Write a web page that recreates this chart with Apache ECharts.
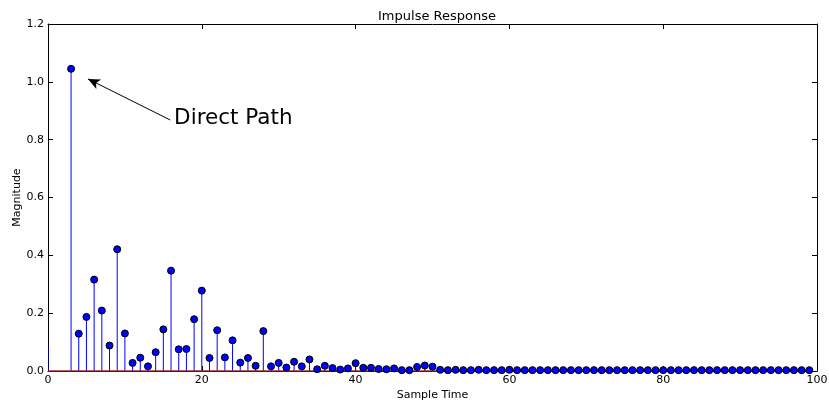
<!DOCTYPE html>
<html>
<head>
<meta charset="utf-8">
<script src="https://cdn.jsdelivr.net/npm/echarts@6/dist/echarts.min.js"></script>
<style>html,body{margin:0;padding:0;background:#fff}#c{width:829px;height:402px}</style>
</head>
<body>
<div id="c"></div>
<script>
const chartTitle = 'Impulse Response';
const xLabel = 'Sample Time';
const yLabel = 'Magnitude';
const xTicks = [0, 20, 40, 60, 80, 100];
const yTicks = [0, 0.2, 0.4, 0.6, 0.8, 1.0, 1.2];
// stem at sample 0 (drawn without a visible marker in the reference)
const leadStem = [0, 0.088];
// magnitudes for sample times 3..99
const firstSample = 3;
const magnitudes = [
  1.045, 0.129, 0.187, 0.316, 0.209, 0.088, 0.421, 0.130, 0.028, 0.046,
  0.016, 0.065, 0.144, 0.347, 0.075, 0.076, 0.179, 0.278, 0.045, 0.141,
  0.047, 0.106, 0.029, 0.045, 0.018, 0.138, 0.016, 0.028, 0.012, 0.032,
  0.016, 0.040, 0.006, 0.018, 0.010, 0.005, 0.009, 0.027, 0.011, 0.011,
  0.007, 0.006, 0.009, 0.003, 0.003, 0.014, 0.019, 0.015, 0.004, 0.003,
  0.004, 0.003, 0.003, 0.004, 0.003, 0.003, 0.003, 0.004, 0.003, 0.003,
  0.003, 0.003, 0.003, 0.003, 0.003, 0.003, 0.003, 0.003, 0.003, 0.003,
  0.003, 0.003, 0.003, 0.003, 0.003, 0.003, 0.003, 0.003, 0.003, 0.003,
  0.003, 0.003, 0.003, 0.003, 0.003, 0.003, 0.003, 0.003, 0.003, 0.003,
  0.003, 0.003, 0.003, 0.003, 0.003, 0.003, 0.003
];
const annotationText = 'Direct Path';
const arrowTail = [15.9, 0.868];
const arrowHead = [5.2, 1.01];
const textAnchor = [16.4, 0.872];

const points = magnitudes.map((v, i) => [firstSample + i, v]);
const stems = [leadStem].concat(points);
const baselineEnd = points[points.length - 1][0];

const font = 'DejaVu Sans';
const chart = echarts.init(document.getElementById('c'));
const axisLineStyle = { show: true, onZero: false, lineStyle: { color: '#000', width: 1 } };
const tickStyle = { show: true, inside: true, length: 5, lineStyle: { color: '#000' } };

chart.setOption({
  animation: false,
  backgroundColor: '#fff',
  title: {
    text: chartTitle, left: 432, top: 5, textAlign: 'center',
    textStyle: { fontFamily: font, fontSize: 13, fontWeight: 'normal', color: '#000' }
  },
  grid: { left: 48, right: 12, top: 24, bottom: 31, containLabel: false, outerBoundsMode: 'none' },
  xAxis: [{
    type: 'value', min: 0, max: 100, interval: 20, position: 'bottom',
    name: xLabel, nameLocation: 'middle', nameGap: 19, nameMoveOverlap: false,
    nameTextStyle: { fontFamily: font, fontSize: 11, color: '#000' },
    axisLine: axisLineStyle, axisTick: tickStyle, splitLine: { show: false },
    axisLabel: { fontFamily: font, fontSize: 11, color: '#000', margin: 4 }
  }, {
    type: 'value', min: 0, max: 100, interval: 20, position: 'top',
    axisLine: axisLineStyle, axisTick: tickStyle, splitLine: { show: false },
    axisLabel: { show: false }
  }],
  yAxis: [{
    type: 'value', min: 0, max: 1.2, interval: 0.2, position: 'left',
    name: yLabel, nameLocation: 'middle', nameGap: 25, nameMoveOverlap: false,
    nameTextStyle: { fontFamily: font, fontSize: 11, color: '#000' },
    axisLine: axisLineStyle, axisTick: tickStyle, splitLine: { show: false },
    axisLabel: { fontFamily: font, fontSize: 11, color: '#000', margin: 4,
      formatter: v => v.toFixed(1) }
  }, {
    type: 'value', min: 0, max: 1.2, interval: 0.2, position: 'right',
    axisLine: axisLineStyle, axisTick: tickStyle, splitLine: { show: false },
    axisLabel: { show: false }
  }],
  series: [{
    type: 'custom',
    data: stems,
    z: 2,
    clip: true,
    renderItem: function (params, api) {
      const x = api.value(0), y = api.value(1);
      const p0 = api.coord([x, 0]);
      const p1 = api.coord([x, y]);
      return {
        type: 'line',
        shape: { x1: p0[0], y1: p0[1], x2: p1[0], y2: p1[1] },
        style: { stroke: '#0000ff', lineWidth: 1 }
      };
    }
  }, {
    type: 'line',
    data: [[0, 0], [baselineEnd, 0]],
    symbol: 'none',
    z: 3,
    lineStyle: { color: '#9a2a2a', width: 1.5 }
  }, {
    type: 'scatter',
    data: points,
    symbol: 'circle',
    symbolSize: 7,
    z: 4,
    itemStyle: { color: '#0000ff', borderColor: '#000', borderWidth: 1, opacity: 1 },
    markLine: {
      silent: true,
      symbol: ['none', 'arrow'],
      symbolSize: [8, 12],
      label: { show: false },
      lineStyle: { color: '#000', width: 1, type: 'solid' },
      data: [[{ coord: arrowTail }, { coord: arrowHead }]]
    },
    markPoint: {
      silent: true,
      symbol: 'circle', symbolSize: 0,
      label: {
        show: true, position: 'right', distance: 0,
        formatter: annotationText,
        fontFamily: font, fontSize: 21.5, color: '#000'
      },
      data: [{ coord: textAnchor }]
    }
  }]
});
</script>
</body>
</html>
